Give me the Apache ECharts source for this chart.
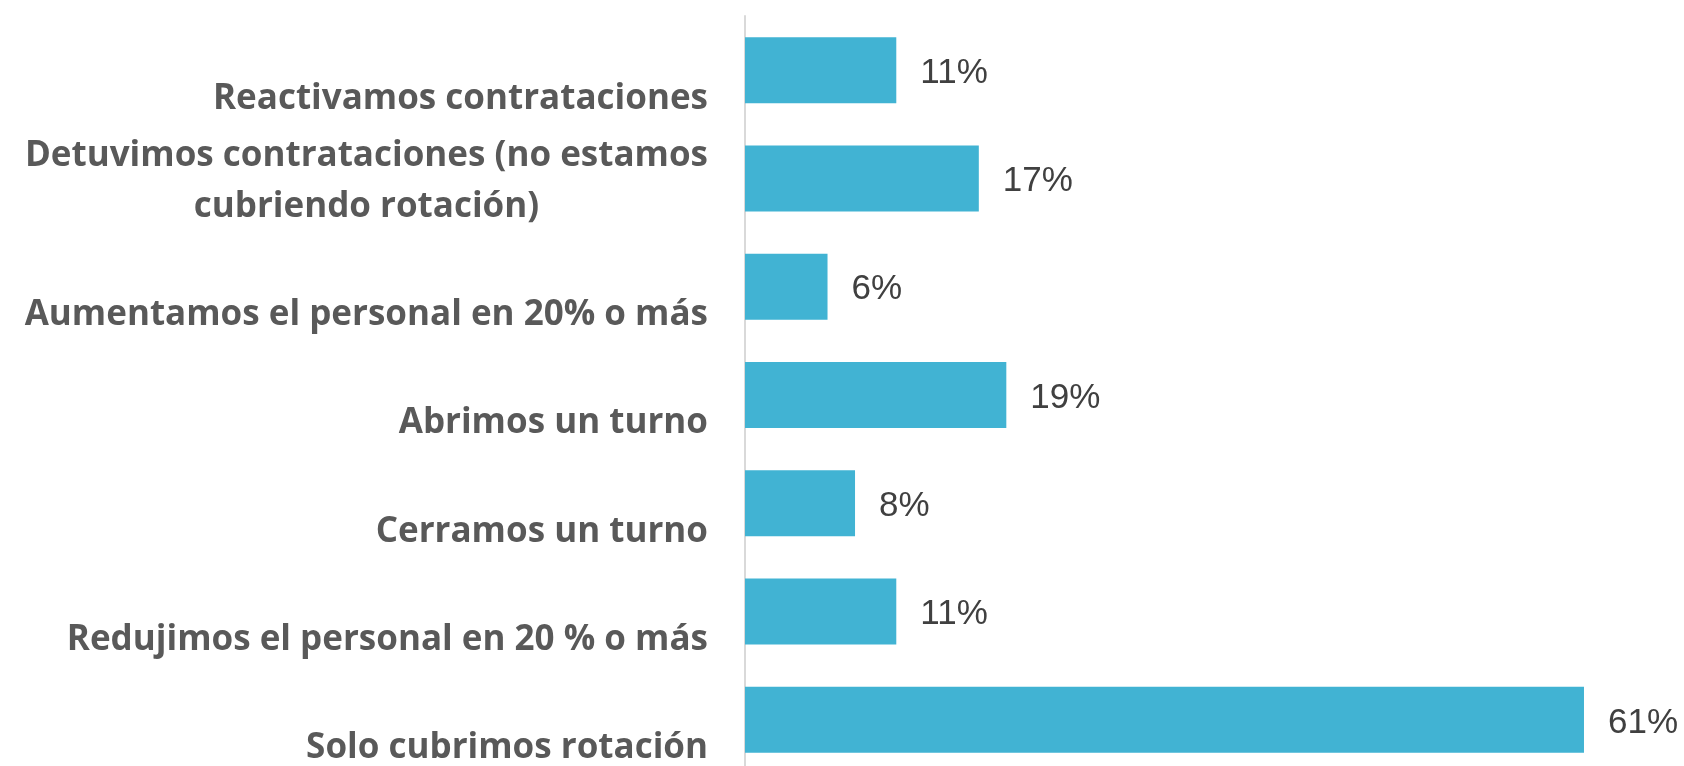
<!DOCTYPE html>
<html>

<head>
    <meta http-equiv="Content-Type" content="text/html; charset=utf-8" />
    <title>contrataciones</title>
    <style type="text/css">
    body,
    html {
        width: 100%;
        height: 100%;
        margin: 0;
        overflow: hidden;
        background-color: #fff;
    }

    /* un poco mas alto que la ventana: la ultima banda sale del borde */
    #container {
        width: 1684px;
        height: 780px;
    }
    </style>
</head>

<body>
    <div id="container"></div>
</body>
<script src="https://cdn.jsdelivr.net/npm/echarts@6/dist/echarts.min.js"></script>
<script>
// datos (de arriba hacia abajo)
var categories = [
    'Reactivamos contrataciones',
    'Detuvimos contrataciones (no estamos\ncubriendo rotación)',
    'Aumentamos el personal en 20% o más',
    'Abrimos un turno',
    'Cerramos un turno',
    'Redujimos el personal en 20 % o más',
    'Solo cubrimos rotación'
];
var values = [11, 17, 6, 19, 8, 11, 61];

var chartDom = document.getElementById('container');
var myChart = echarts.init(chartDom);
var option;

option = {
    animation: false,
    grid: {
        left: 745,
        top: 16,
        width: 894,
        height: 758
    },
    xAxis: {
        type: 'value',
        min: 0,
        max: 65,
        show: false
    },
    yAxis: {
        type: 'category',
        inverse: true,
        data: categories,
        axisLine: {
            lineStyle: { color: '#d9d9d9', width: 2 }
        },
        axisTick: { show: false },
        axisLabel: {
            margin: 37,
            padding: [6, 0, 0, 0],
            formatter: function(v) {
                // etiquetas de una linea quedan bajo el centro de la barra
                var lines = v.split('\n');
                if (lines.length == 1) lines.unshift(' ');
                return lines.map(function(l) { return '{c|' + l + '}'; }).join('\n');
            },
            rich: {
                c: {
                    align: 'center',
                    lineHeight: 51,
                    fontSize: 35,
                    fontWeight: 'bold',
                    fontFamily: 'Open Sans',
                    color: '#595959'
                }
            }
        }
    },
    series: [{
        type: 'bar',
        data: values,
        barWidth: 66,
        itemStyle: { color: '#41b3d3' },
        label: {
            show: true,
            position: 'right',
            distance: 24,
            offset: [0, 3],
            formatter: '{c}%',
            fontSize: 35,
            fontFamily: 'Liberation Sans',
            color: '#404040'
        }
    }]
};

option && myChart.setOption(option);
</script>

</html>
